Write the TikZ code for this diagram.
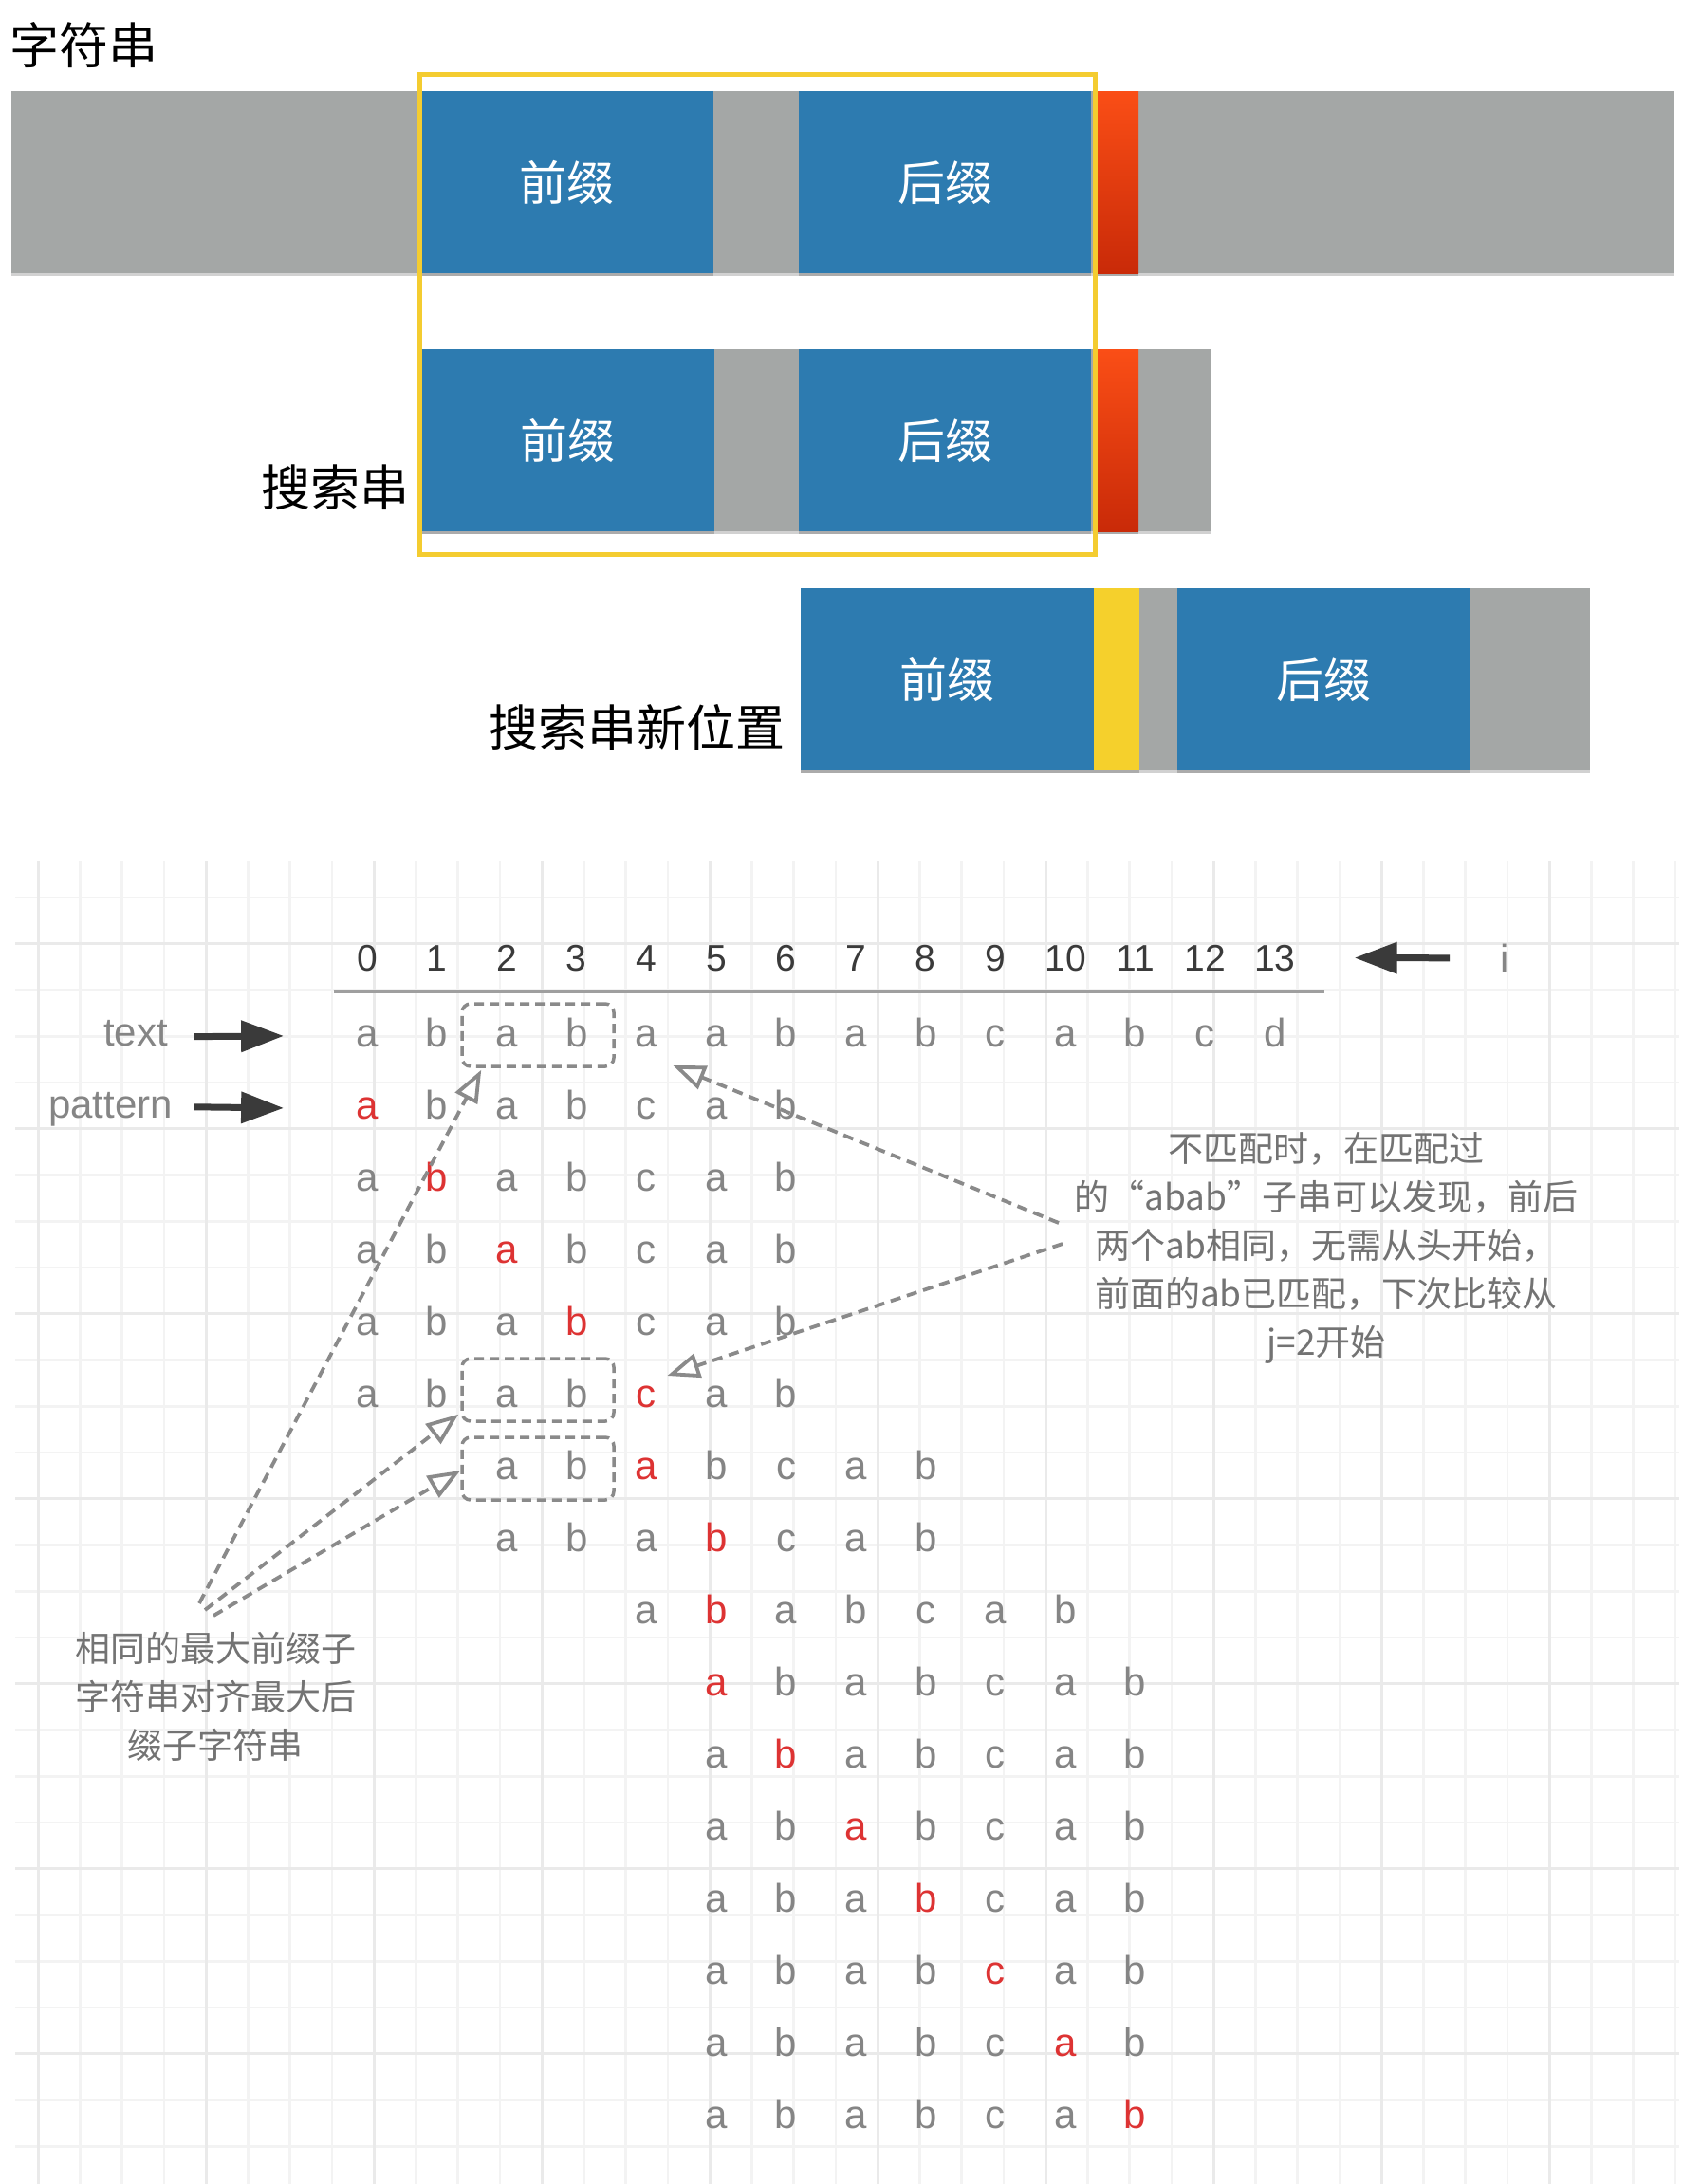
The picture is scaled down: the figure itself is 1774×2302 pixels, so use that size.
\documentclass[tikz,border=0pt]{standalone}
\usepackage{fontspec}
\setmainfont{Liberation Sans}
\newfontfamily\cjk{Noto Sans CJK SC}
\usetikzlibrary{arrows.meta,calc,shadows}
\definecolor{barGray}{HTML}{A4A7A6}
\definecolor{kmpBlue}{HTML}{2D7BB0}
\definecolor{redTop}{HTML}{FA4E16}
\definecolor{redBot}{HTML}{C92A08}
\definecolor{kmpYellow}{HTML}{F5D02C}
\definecolor{frameYellow}{HTML}{F4CC30}
\definecolor{letterGray}{HTML}{858585}
\definecolor{hlRed}{HTML}{DD3333}
\definecolor{digitGray}{HTML}{3A3A3A}
\definecolor{noteGray}{HTML}{737373}
\definecolor{dashGray}{HTML}{8A8A8A}
\definecolor{gridMinor}{HTML}{F3F3F3}
\definecolor{gridMajor}{HTML}{EAEAEA}

\begin{document}
\begin{tikzpicture}[x=1pt,y=-1pt]

                  \tikzset{
                        blockshadow/.style = {drop shadow={shadow xshift=0pt, shadow yshift=-3pt, fill=black, opacity=0.18}},
                        block/.style = {anchor=north west, inner sep=0, minimum height=192, blockshadow},
                        graybar/.style = {block, fill=barGray},
                        bluebox/.style = {block, fill=kmpBlue, text=white, font=\cjk\fontsize{50}{50}\selectfont},
                        redstrip/.style = {block, minimum width=48, top color=redTop, bottom color=redBot},
                        yellowstrip/.style = {block, minimum width=48, fill=kmpYellow},
                        toplabel/.style = {inner sep=0, font=\cjk\fontsize{52}{52}\selectfont},
                        letter/.style = {anchor=base, inner sep=0, text=letterGray, font=\fontsize{42}{42}\selectfont},
                        digit/.style = {anchor=base, inner sep=0, text=digitGray, font=\fontsize{39}{39}\selectfont},
                        note/.style = {inner sep=0, align=center, text=noteGray, font=\cjk\fontsize{37}{51}\selectfont},
                        dbox/.style = {draw=dashGray, line width=3.5, dash pattern=on 10pt off 6pt, rounded corners=9pt, minimum width=160, minimum height=66, inner sep=0},
                        bigarrow/.style = {draw=digitGray, line width=7, -{Triangle[length=45pt, width=32pt]}},
                        darrow/.style = {draw=dashGray, line width=3.8, dash pattern=on 11pt off 7pt, -{Triangle[open, length=34pt, width=26pt]}}
                  }

                  \fill[white] (0,0) rectangle (1774,2302);
                  \useasboundingbox (0,0) rectangle (1774,2302);

                  % String row
                  \node[graybar, minimum width=1752] (bar1) at (12,96) {};
                  \node[bluebox, minimum width=310] (pre1) at (442,96) {前缀};
                  \node[bluebox, minimum width=308] (suf1) at (842,96) {后缀};
                  \node[redstrip] (red1) at (1152,96) {};

                  % Search string row
                  \node[graybar, minimum width=832] (bar2) at (444,368) {};
                  \node[bluebox, minimum width=309] (pre2) at (444,368) {前缀};
                  \node[bluebox, minimum width=308] (suf2) at (842,368) {后缀};
                  \node[redstrip] (red2) at (1152,368) {};

                  % Search string, new position
                  \node[graybar, minimum width=832] (bar3) at (844,620) {};
                  \node[bluebox, minimum width=309] (pre3) at (844,620) {前缀};
                  \node[yellowstrip] (yel3) at (1153,620) {};
                  \node[bluebox, minimum width=308] (suf3) at (1241,620) {后缀};

                  % Yellow frame round the matched part
                  \node[draw=frameYellow, line width=5, anchor=north west, inner sep=0,
                        minimum width=712, minimum height=506] (frame) at (440,76) {};

                  \node[toplabel, anchor=west] (lblStr) at (10,48) {字符串};
                  \node[toplabel, anchor=east] (lblSearch) at (432,514) {搜索串};
                  \node[toplabel, anchor=east] (lblNew) at (828,767) {搜索串新位置};

                  % Grid paper
                  \begin{scope}
                        \clip (16,907) rectangle (1770,2302);
                        \foreach \k in {0,...,39} {
                              \draw[gridMinor, line width=2.5] (40+44.25*\k,907) -- (40+44.25*\k,2302);
                        }
                        \foreach \k in {0,...,27} {
                              \draw[gridMinor, line width=2.5] (16,946+48.75*\k) -- (1770,946+48.75*\k);
                        }
                        \foreach \k in {0,4,...,36} {
                              \draw[gridMajor, line width=3] (40+44.25*\k,907) -- (40+44.25*\k,2302);
                        }
                        \foreach \k in {1,5,...,25} {
                              \draw[gridMajor, line width=3] (16,946+48.75*\k) -- (1770,946+48.75*\k);
                        }
                  \end{scope}

                  % Index i
                  \foreach \d in {0,...,13} {
                        \node[digit] (d\d) at (387+73.6*\d,1023) {\d};
                  }
                  \draw[gray!75, line width=4] (352,1045) -- (1396,1045);
                  \node[letter] (lblI) at (1586,1025) {i};
                  \draw[bigarrow] ($(lblI.west)+(-53,0)$) -- ($(d13.east)+(62,0)$);

                  % Text
                  \foreach \c [count=\k from 0] in {a,b,a,b,a,a,b,a,b,c,a,b,c,d} {
                        \node[letter] (t\k) at (387+73.6*\k,1103) {\c};
                  }

                  % Pattern, one row per comparison: row/shift/position of the compared letter
                  \foreach \row/\sh/\hi in {1/0/0, 2/0/1, 3/0/2, 4/0/3, 5/0/4, 6/2/2, 7/2/3, 8/4/1,
                                            9/5/0, 10/5/1, 11/5/2, 12/5/3, 13/5/4, 14/5/5, 15/5/6} {
                        \foreach \c [count=\j from 0] in {a,b,a,b,c,a,b} {
                              \ifnum\j=\hi\relax
                                    \node[letter, text=hlRed] (p\row c\j) at (387+73.6*\sh+73.6*\j,1103+76*\row) {\c};
                              \else
                                    \node[letter] (p\row c\j) at (387+73.6*\sh+73.6*\j,1103+76*\row) {\c};
                              \fi
                        }
                  }

                  \node[letter, anchor=base east] (lblText) at (177,1102) {text};
                  \node[letter, anchor=base east] (lblPat) at (182,1178) {pattern};
                  \draw[bigarrow] ($(lblText.east)+(28,4)$) -- ($(t0.west)+(-76,0)$);
                  \draw[bigarrow] ($(lblPat.east)+(23,-2)$) -- ($(p1c0.west)+(-76,0)$);

                  % Equal prefix and suffix
                  \node[dbox] (boxA) at (567,1091) {};
                  \node[dbox] (boxB) at (567,1465) {};
                  \node[dbox] (boxC) at (567,1548) {};

                  % Notes
                  \node[note] (noteR) at (1398,1315) {不匹配时，在匹配过\\的“abab”子串可以发现，前后\\两个ab相同，无需从头开始，\\前面的ab已匹配，下次比较从\\j=2开始};
                  \node[note] (noteL) at (227,1788) {相同的最大前缀子\\字符串对齐最大后\\缀子字符串};

                  \coordinate (fromR1) at (1116,1289);
                  \coordinate (fromR2) at (1120,1311);
                  \coordinate (fromL1) at (210,1690);
                  \coordinate (fromL2) at (216,1697);
                  \coordinate (fromL3) at (225,1703);
                  \draw[darrow] (fromR1) -- ($(t4.base)+(28,20)$);
                  \draw[darrow] (fromR2) -- ($(p5c4.base)+(22,-33)$);
                  \draw[darrow] (fromL1) -- ($(boxA.south west)+(22,2)$);
                  \draw[darrow] (fromL2) -- ($(boxB.south west)+(-2,-9)$);
                  \draw[darrow] (fromL3) -- ($(boxC.west)+(0,2)$);

            \end{tikzpicture}
\end{document}
